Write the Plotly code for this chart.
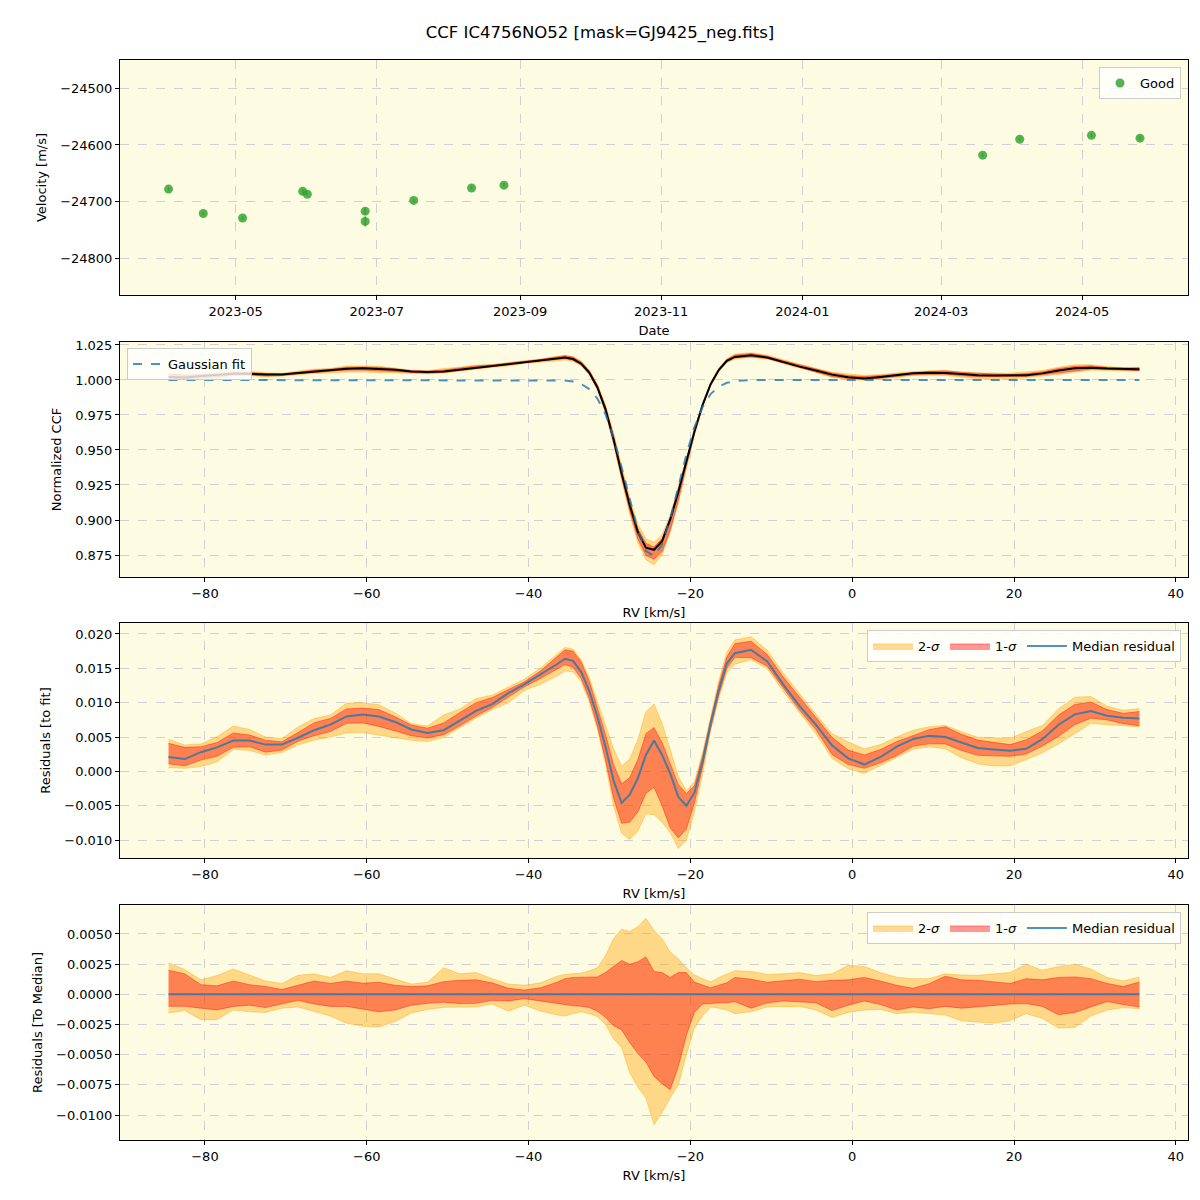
import numpy as np
import plotly.graph_objects as go

# ---------------- data: panel 1 (velocities) ----------------
DATES = ["2023-04-02", "2023-04-17", "2023-05-04", "2023-05-30", "2023-06-01",
         "2023-06-26", "2023-06-26", "2023-07-17", "2023-08-11", "2023-08-25",
         "2024-03-19", "2024-04-04", "2024-05-05", "2024-05-26"]
VEL = [-24678, -24721, -24729, -24682, -24687, -24717, -24735, -24698,
       -24676, -24671, -24618, -24590, -24583, -24588]
VEL_ERR = [3, 3, 3, 4, 3, 6, 9, 3, 3, 3, 3, 3, 3, 3]

# ---------------- data: CCF panels ----------------
RV = [-84.5, -82.5, -80.5, -78.5, -76.5, -74.5, -72.5, -70.5, -68.5, -66.5,
      -64.5, -62.5, -60.5, -58.5, -56.5, -54.5, -52.5, -50.5, -48.5, -46.5,
      -44.5, -42.5, -40.5, -38.5, -36.5,
      -35.5, -34.5, -33.5, -32.5, -31.5, -30.5, -29.5, -28.5, -27.5, -26.5,
      -25.5, -24.5, -23.5, -22.5, -21.5, -20.5, -19.5, -18.5, -17.5, -16.5,
      -15.5, -14.5,
      -12.5, -10.5, -8.5, -6.5, -4.5, -2.5, -0.5, 1.5, 3.5, 5.5, 7.5, 9.5,
      11.5, 13.5, 15.5, 17.5, 19.5, 21.5, 23.5, 25.5, 27.5, 29.5, 31.5, 33.5, 35.5]

GAUSS_FIT = [1.0, 1.0, 1.0, 1.0, 1.0, 1.0, 1.0, 1.0, 1.0, 1.0,
             1.0, 1.0, 1.0, 1.0, 1.0, 1.0, 1.0, 1.0, 1.0, 1.0,
             1.0, 1.0, 1.0, 1.0, 0.99986,
             0.99957, 0.99884, 0.99712, 0.99352, 0.98680, 0.97558, 0.95905, 0.93771, 0.91404, 0.89242,
             0.87787, 0.87424, 0.88254, 0.90050, 0.92354, 0.94670, 0.96631, 0.98068, 0.98995, 0.99526,
             0.99797, 0.99921,
             0.99991, 1.0, 1.0, 1.0, 1.0, 1.0, 1.0, 1.0, 1.0, 1.0, 1.0, 1.0,
             1.0, 1.0, 1.0, 1.0, 1.0, 1.0, 1.0, 1.0, 1.0, 1.0, 1.0, 1.0, 1.0]

MEDIAN_RESID = [0.0021, 0.0018, 0.0028, 0.0035, 0.0045, 0.0045, 0.0039, 0.0039, 0.0049, 0.0060,
                0.0068, 0.0080, 0.0083, 0.0080, 0.0072, 0.0061, 0.0056, 0.0060, 0.0074, 0.0088,
                0.0098, 0.0114, 0.0127, 0.0141, 0.0156,
                0.0164, 0.0161, 0.0145, 0.0117, 0.0080, 0.0036, -0.0013, -0.0046, -0.0034, -0.0010,
                0.0024, 0.0045, 0.0024, -0.0003, -0.0037, -0.0050, -0.0031, 0.0014, 0.0070, 0.0118,
                0.0157, 0.0172,
                0.0177, 0.0160, 0.0126, 0.0095, 0.0068, 0.0038, 0.0019, 0.0010, 0.0021, 0.0036, 0.0047, 0.0052,
                0.0050, 0.0042, 0.0034, 0.0032, 0.0030, 0.0033, 0.0047, 0.0068, 0.0083, 0.0088, 0.0081, 0.0078, 0.0077]

# deviations from the median (units of 1e-3)
UP1_E3 = [1.99, 1.70, 0.80, 0.70, 1.10, 0.80, 0.65, 0.40, 0.75, 1.10,
          0.90, 1.10, 0.92, 1.00, 0.75, 0.65, 0.70, 1.05, 1.16, 1.20,
          0.95, 0.50, 0.35, 0.55, 1.00,
          1.30, 1.40, 1.42, 1.44, 1.44, 1.80, 2.30, 2.80, 2.50, 2.70,
          3.10, 1.90, 1.80, 1.40, 1.80, 1.80, 1.00, 0.80, 0.55, 0.75,
          0.95, 1.40,
          1.25, 1.00, 1.10, 1.25, 1.05, 1.16, 1.20, 1.40, 1.10, 0.75, 0.50, 0.88,
          1.50, 1.20, 1.16, 1.04, 0.90, 1.30, 1.20, 1.40, 1.44, 1.30, 0.90, 0.65, 1.02]
LO1_E3 = [-0.99, -0.99, -1.15, -1.30, -1.00, -0.90, -1.10, -0.80, -0.50, -0.80,
          -1.00, -1.00, -1.25, -1.45, -1.30, -0.90, -0.75, -0.65, -0.77, -0.75,
          -0.50, -0.55, -0.36, -0.55, -0.70,
          -0.85, -0.95, -0.98, -1.10, -1.40, -1.90, -2.60, -2.95, -4.00, -4.90,
          -5.60, -6.80, -7.40, -7.90, -6.00, -3.40, -1.50, -0.80, -0.77, -0.70,
          -0.70, -0.60,
          -1.15, -0.70, -0.55, -0.60, -0.70, -1.35, -0.90, -0.55, -0.85, -1.30, -1.05, -1.19,
          -1.00, -1.15, -1.06, -0.93, -0.80, -0.77, -1.00, -1.70, -1.50, -1.05, -0.60, -0.85, -1.05]
UP2_E3 = [2.59, 2.05, 1.20, 1.55, 2.10, 1.60, 1.10, 0.90, 1.57, 1.70,
          1.40, 1.95, 1.70, 1.70, 1.30, 0.85, 1.00, 2.20, 1.70, 1.80,
          1.30, 0.85, 0.75, 0.95, 1.50,
          1.65, 1.70, 1.75, 1.95, 2.20, 3.20, 4.60, 5.40, 5.20, 5.60,
          6.30, 5.30, 4.60, 3.50, 2.95, 2.20, 1.60, 1.30, 1.02, 1.40,
          1.65, 1.95,
          1.90, 1.65, 1.70, 1.80, 1.55, 1.70, 2.40, 2.30, 1.80, 1.42, 1.30, 1.30,
          1.70, 1.60, 1.57, 1.70, 1.80, 2.50, 2.00, 2.30, 2.50, 2.10, 1.40, 1.10, 1.44]
LO2_E3 = [-1.55, -1.35, -2.10, -2.10, -1.30, -1.45, -1.50, -1.15, -1.05, -1.45,
          -1.80, -2.40, -2.65, -2.70, -2.25, -1.55, -1.25, -1.08, -1.05, -1.05,
          -0.80, -1.40, -0.90, -1.40, -1.70,
          -1.80, -1.60, -1.45, -1.60, -1.85, -2.50, -3.70, -4.40, -6.50, -7.70,
          -8.60, -10.80, -9.80, -8.60, -7.50, -5.00, -2.80, -1.80, -1.05, -1.15,
          -1.30, -1.60,
          -1.45, -1.05, -1.00, -1.00, -1.30, -1.90, -1.50, -1.30, -1.25, -1.60, -1.48, -1.60,
          -1.72, -2.20, -2.30, -2.40, -2.20, -1.60, -2.00, -2.80, -2.75, -1.80, -1.30, -1.10, -1.19]

# ---------------- derived series ----------------
rv = np.array(RV)
gfit = np.array(GAUSS_FIT)
med = np.array(MEDIAN_RESID)
u1 = np.array(UP1_E3) * 1e-3
l1 = np.array(LO1_E3) * 1e-3
u2 = np.array(UP2_E3) * 1e-3
l2 = np.array(LO2_E3) * 1e-3
ccf = gfit + med

# ---------------- styling ----------------
BG = "#FDFBE1"
C2S = "rgba(255,165,0,0.4)"
C1S = "rgba(255,0,0,0.4)"
CMED = "rgba(31,119,180,0.8)"
GREEN = "rgba(44,160,44,0.8)"
FONT = "DejaVu Sans"

fig = go.Figure()


def add_band(x, lo, hi, color, name, xa, ya, legend, show):
    fig.add_trace(go.Scatter(x=x, y=lo, mode="lines", line=dict(color=color, width=1),
                             showlegend=False, xaxis=xa, yaxis=ya, hoverinfo="skip"))
    fig.add_trace(go.Scatter(x=x, y=hi, mode="lines", line=dict(color=color, width=1),
                             fill="tonexty", fillcolor=color, name=name, showlegend=show,
                             legend=legend, xaxis=xa, yaxis=ya, hoverinfo="skip"))


# panel 1
fig.add_trace(go.Scatter(x=DATES, y=VEL, mode="markers", name="Good",
                         marker=dict(color=GREEN, size=9, line=dict(width=0)),
                         error_y=dict(type="data", array=VEL_ERR, color=GREEN, thickness=1.5, width=0),
                         xaxis="x", yaxis="y", legend="legend"))

# panel 2
add_band(rv, ccf + l2, ccf + u2, C2S, "2-σ", "x2", "y2", "legend2", False)
add_band(rv, ccf + l1, ccf + u1, C1S, "1-σ", "x2", "y2", "legend2", False)
fig.add_trace(go.Scatter(x=rv, y=ccf, mode="lines", line=dict(color="black", width=2),
                         showlegend=False, xaxis="x2", yaxis="y2"))
fig.add_trace(go.Scatter(x=rv, y=gfit, mode="lines", name="Gaussian fit",
                         line=dict(color=CMED, width=2, dash="dash"),
                         xaxis="x2", yaxis="y2", legend="legend2"))

# panel 3
add_band(rv, med + l2, med + u2, C2S, "2-<i>σ</i>", "x3", "y3", "legend3", True)
add_band(rv, med + l1, med + u1, C1S, "1-<i>σ</i>", "x3", "y3", "legend3", True)
fig.add_trace(go.Scatter(x=rv, y=med, mode="lines", name="Median residual",
                         line=dict(color=CMED, width=2), xaxis="x3", yaxis="y3", legend="legend3"))

# panel 4
add_band(rv, l2, u2, C2S, "2-<i>σ</i>", "x4", "y4", "legend4", True)
add_band(rv, l1, u1, C1S, "1-<i>σ</i>", "x4", "y4", "legend4", True)
fig.add_trace(go.Scatter(x=rv, y=med - med, mode="lines", name="Median residual",
                         line=dict(color=CMED, width=2), xaxis="x4", yaxis="y4", legend="legend4"))

# ---------------- layout ----------------
W = H = 1200
OFF = 8  # page body margin


def px_x(p):
    return (p - OFF) / W


def px_y(p):
    return 1 - (p - OFF) / H


def dom_y(top, bottom):
    return [px_y(bottom), px_y(top)]


XD = [px_x(120), px_x(1188)]
ax = dict(showline=True, linecolor="black", linewidth=1, mirror=True, ticks="outside",
          ticklen=4, tickcolor="black", showgrid=True, gridcolor="#d0d0d0", griddash="dash",
          gridwidth=1, zeroline=False, automargin=False,
          tickfont=dict(size=13, color="black", family=FONT))
xtit = lambda t: dict(text=t, font=dict(size=13, color="black", family=FONT), standoff=8)
ytit = lambda t: dict(text=t, font=dict(size=13, color="black", family=FONT), standoff=10)

legend_style = dict(bgcolor="rgba(255,255,255,0.8)", bordercolor="#cccccc", borderwidth=1,
                    traceorder="normal", font=dict(size=13, color="black", family=FONT))

RVT = [-80, -60, -40, -20, 0, 20, 40]

fig.update_layout(
    width=W, height=H, autosize=False,
    margin=dict(l=0, r=0, t=0, b=0),
    paper_bgcolor="white", plot_bgcolor=BG,
    font=dict(family=FONT, size=13, color="black"),
    title=dict(text="CCF IC4756NO52 [mask=GJ9425_neg.fits]", x=px_x(600), xanchor="center",
               y=px_y(32), yanchor="middle", font=dict(size=16.5, family=FONT, color="black")),
    xaxis=dict(ax, domain=XD, anchor="y", type="date",
               range=["2023-03-12", "2024-06-15 18:00"], tickformat="%Y-%m",
               dtick="M2", tick0="2023-05-01", title=xtit("Date")),
    yaxis=dict(ax, domain=dom_y(60, 295), anchor="x", range=[-24865, -24450],
               tickvals=[-24800, -24700, -24600, -24500], tickformat="d",
               title=ytit("Velocity [m/s]")),
    xaxis2=dict(ax, domain=XD, anchor="y2", range=[-90.5, 41.5], tickvals=RVT,
                title=xtit("RV [km/s]")),
    yaxis2=dict(ax, domain=dom_y(342, 577), anchor="x2", range=[0.8593, 1.0271],
                tickvals=[0.875, 0.9, 0.925, 0.95, 0.975, 1.0, 1.025], tickformat=".3f",
                title=ytit("Normalized CCF")),
    xaxis3=dict(ax, domain=XD, anchor="y3", range=[-90.5, 41.5], tickvals=RVT,
                title=xtit("RV [km/s]")),
    yaxis3=dict(ax, domain=dom_y(623, 858), anchor="x3", range=[-0.0126, 0.0216],
                tickvals=[-0.01, -0.005, 0.0, 0.005, 0.01, 0.015, 0.02], tickformat=".3f",
                title=ytit("Residuals [to fit]")),
    xaxis4=dict(ax, domain=XD, anchor="y4", range=[-90.5, 41.5], tickvals=RVT,
                title=xtit("RV [km/s]")),
    yaxis4=dict(ax, domain=dom_y(905, 1140), anchor="x4", range=[-0.01207, 0.0074],
                tickvals=[-0.01, -0.0075, -0.005, -0.0025, 0.0, 0.0025, 0.005], tickformat=".4f",
                title=ytit("Residuals [To Median]")),
    legend=dict(legend_style, x=px_x(1181), xanchor="right", y=px_y(67), yanchor="top"),
    legend2=dict(legend_style, x=px_x(127), xanchor="left", y=px_y(348), yanchor="top"),
    legend3=dict(legend_style, x=px_x(1181), xanchor="right", y=px_y(630), yanchor="top",
                 orientation="h", itemwidth=40),
    legend4=dict(legend_style, x=px_x(1181), xanchor="right", y=px_y(912), yanchor="top",
                 orientation="h", itemwidth=40),
)

fig.write_html("out.html")
